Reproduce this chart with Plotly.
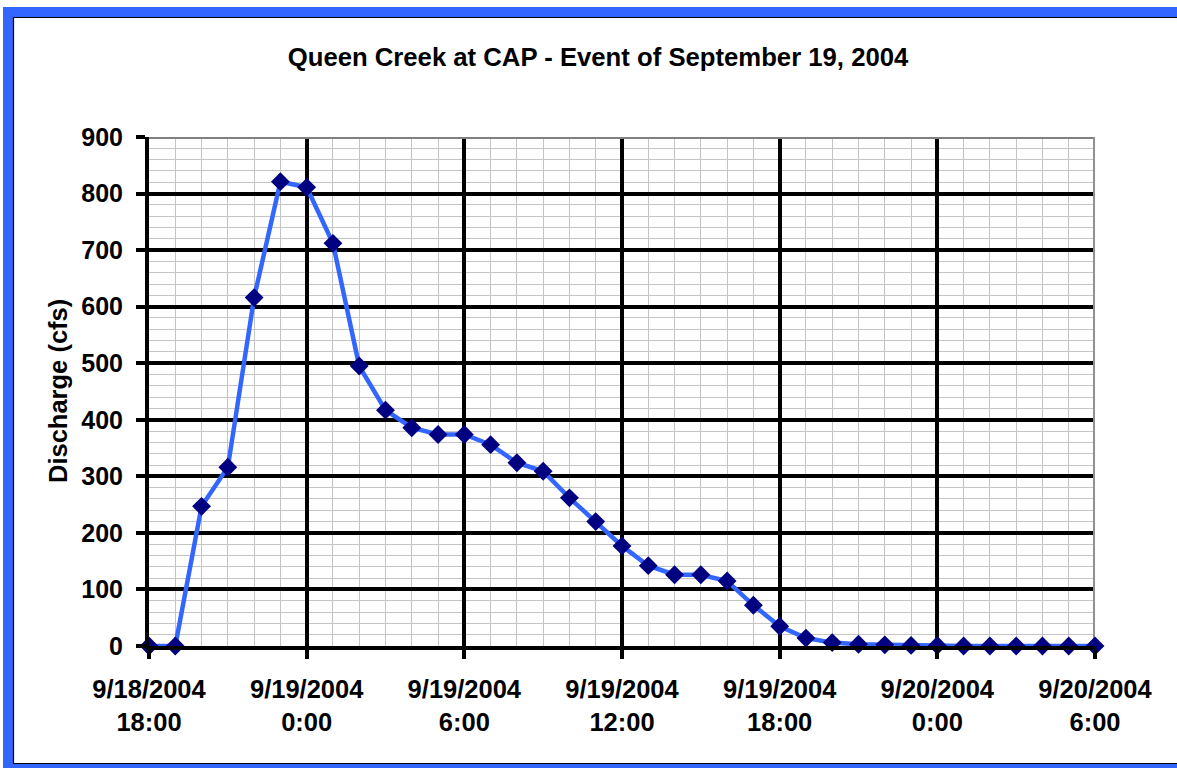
import plotly.graph_objects as go
import pandas as pd

# ---- data ----
times = pd.date_range("2004-09-18 18:00", "2004-09-20 06:00", freq="h")
discharge = [0, 0, 247, 316, 616, 821,
             811, 712, 495, 417, 386, 374,
             374, 356, 324, 309, 262, 220,
             177, 142, 126, 126, 115, 72,
             35, 14, 6, 3, 2, 1,
             1, 0, 0, 0, 0, 0, 0]
tick_times = ["2004-09-18 18:00", "2004-09-19 00:00", "2004-09-19 06:00",
              "2004-09-19 12:00", "2004-09-19 18:00", "2004-09-20 00:00",
              "2004-09-20 06:00"]
tick_labels = ["9/18/2004<br>18:00", "9/19/2004<br>0:00", "9/19/2004<br>6:00",
               "9/19/2004<br>12:00", "9/19/2004<br>18:00", "9/20/2004<br>0:00",
               "9/20/2004<br>6:00"]
y_ticks = [0, 100, 200, 300, 400, 500, 600, 700, 800, 900]
title_text = "Queen Creek at CAP - Event of September 19, 2004"
y_title = "Discharge (cfs)"

# ---- layout geometry ----
W, H = 1177, 768
L, R, T, B = 149, 82, 137, 122
PW, PH = W - L - R, H - T - B
FONT = "Liberation Sans, Arial, sans-serif"


def fx(p):
    return (p - L) / PW


def fy(p):
    return (H - B - p) / PH


fig = go.Figure()
fig.add_trace(go.Scatter(
    x=times, y=discharge, mode="lines+markers",
    line=dict(color="#3366FF", width=4.5),
    marker=dict(symbol="diamond", size=14.5, color="#000080",
                line=dict(width=0)),
    cliponaxis=False, showlegend=False,
))

blue = "#3366FF"
shapes = [
    # outer blue frame (top, left, bottom)
    dict(type="rect", xref="paper", yref="paper", x0=fx(3), x1=fx(W),
         y0=fy(7), y1=fy(17), fillcolor=blue, line=dict(width=0), layer="below"),
    dict(type="rect", xref="paper", yref="paper", x0=fx(3), x1=fx(13),
         y0=fy(7), y1=fy(H), fillcolor=blue, line=dict(width=0), layer="below"),
    dict(type="rect", xref="paper", yref="paper", x0=fx(3), x1=fx(W),
         y0=fy(764), y1=fy(H), fillcolor=blue, line=dict(width=0), layer="below"),
    # keep right margin clean
    dict(type="rect", xref="paper", yref="paper", x0=fx(1156), x1=fx(W + 2),
         y0=fy(18.2), y1=fy(763), fillcolor="white", line=dict(width=0),
         layer="above"),
    # thin black inner frame
    dict(type="line", xref="paper", yref="paper", x0=fx(13), x1=fx(W),
         y0=fy(17.5), y1=fy(17.5), line=dict(color="black", width=1.2)),
    dict(type="line", xref="paper", yref="paper", x0=fx(13.5), x1=fx(13.5),
         y0=fy(17), y1=fy(764), line=dict(color="black", width=1.2)),
    dict(type="line", xref="paper", yref="paper", x0=fx(13), x1=fx(W),
         y0=fy(763.5), y1=fy(763.5), line=dict(color="black", width=1.2)),
    # plot-area border (top / right) with shadow
    dict(type="line", xref="x", yref="y", x0=tick_times[0], x1=tick_times[-1],
         y0=900, y1=900, line=dict(color="#808080", width=4), layer="between"),
    dict(type="line", xref="x", yref="y", x0=tick_times[-1], x1=tick_times[-1],
         y0=0, y1=900, line=dict(color="#909090", width=4), layer="between"),
    dict(type="line", xref="x", yref="y", xsizemode="pixel", xanchor=tick_times[-1],
         x0=2.5, x1=2.5, y0=-4, y1=896, line=dict(color="#404040", width=2.5),
         layer="between"),
]

fig.update_layout(
    width=W, height=H,
    margin=dict(l=L, r=R, t=T, b=B, autoexpand=False),
    paper_bgcolor="white", plot_bgcolor="white",
    font=dict(family=FONT, color="black", size=25),
    title=dict(text=title_text, xref="container", yref="container",
               x=598 / W, y=1 - 57 / H, xanchor="center", yanchor="middle",
               font=dict(family=FONT, size=25.7, weight="bold", color="black")),
    shapes=shapes,
    annotations=[dict(text=y_title, xref="paper", yref="paper",
                      x=fx(58), y=fy(391), xanchor="center", yanchor="middle",
                      textangle=-90, showarrow=False,
                      font=dict(family=FONT, size=25.5, weight="bold",
                                color="black"))],
)

fig.update_xaxes(
    type="date", range=[tick_times[0], tick_times[-1]],
    tickmode="array", tickvals=tick_times, ticktext=tick_labels,
    tickfont=dict(family=FONT, size=25.5, weight="bold", color="black"),
    ticks="outside", ticklen=9, tickwidth=4, tickcolor="black",
    ticklabelstandoff=8,
    showline=True, linecolor="black", linewidth=4,
    showgrid=True, gridcolor="black", gridwidth=4,
    minor=dict(tick0=tick_times[0], dtick=3600000, showgrid=True,
               gridcolor="#c4c4c4", gridwidth=1.2, ticks=""),
    zeroline=False, fixedrange=True,
)
fig.update_yaxes(
    range=[0, 900], tickmode="array", tickvals=y_ticks,
    tickfont=dict(family=FONT, size=25, weight="bold", color="black"),
    ticks="outside", ticklen=9, tickwidth=4, tickcolor="black",
    ticklabelstandoff=8,
    showline=True, linecolor="black", linewidth=4,
    showgrid=True, gridcolor="black", gridwidth=4,
    minor=dict(tick0=0, dtick=20, showgrid=True,
               gridcolor="#c4c4c4", gridwidth=1.2, ticks=""),
    zeroline=False, fixedrange=True,
)

fig.write_html("out.html", config={"displayModeBar": False},
               post_script="document.body.style.margin='0';"
                           "document.body.style.overflow='hidden';")
